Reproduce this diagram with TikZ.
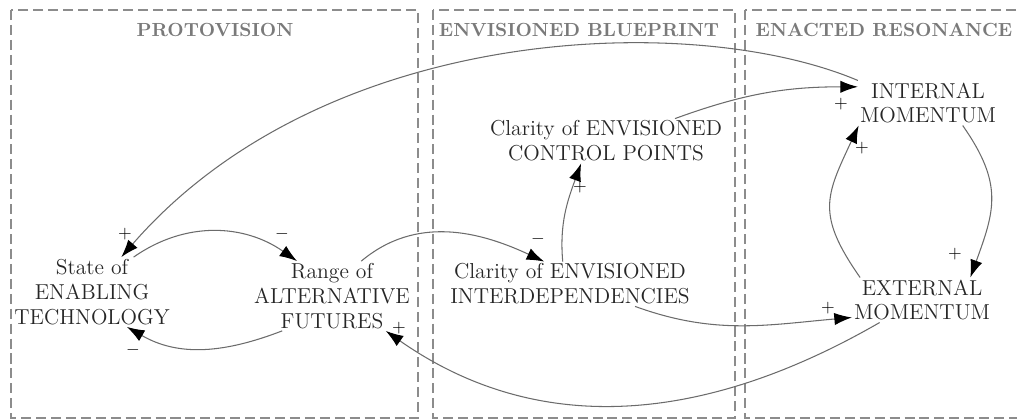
\documentclass[tikz,border=0pt]{standalone}
\usetikzlibrary{arrows.meta,positioning}
\newcommand{\pxunit}{0.02cm}
\colorlet{framegray}{black!45}
\colorlet{titlegray}{black!52}
\colorlet{linkgray}{black!58}
\tikzset{
    boxsty/.style={draw=framegray, line width=1.1pt, dash pattern=on 5.7pt off 2.8pt},
    titlesty/.style={text=titlegray, font=\bfseries\fontsize{10.8}{13}\selectfont, inner sep=0pt},
    varsty/.style={align=center, inner sep=1pt, text=black!85, font=\fontsize{12.3}{14.2}\selectfont},
    linksty/.style={draw=linkgray, line width=0.6pt, ->},
    signsty/.style={font=\normalsize, inner sep=0pt},
}

\begin{document}
\begin{tikzpicture}[x=\pxunit, y=-\pxunit, >={Latex[length=10pt,width=7pt,black]}]
\useasboundingbox (0,0) rectangle (1017,419);

% the three phases
\draw[boxsty] (11,10) rectangle (418,418);
\draw[boxsty] (433,10) rectangle (735,418);
\draw[boxsty] (745,10) rectangle (1040,418);
\node[titlesty] (ttlproto) at (215,30) {PROTOVISION};
\node[titlesty] (ttlblue) at (579,30) {ENVISIONED BLUEPRINT};
\node[titlesty] (ttlenact) at (884,30) {ENACTED RESONANCE};

% variables
\node[varsty] (tech) at (92,292) {State of\\ENABLING\\TECHNOLOGY};
\node[varsty] (range) at (332,296) {Range of\\ALTERNATIVE\\FUTURES};
\node[varsty] (ctrl) at (606,141) {Clarity of ENVISIONED\\CONTROL POINTS};
\node[varsty] (inter) at (570,284) {Clarity of ENVISIONED\\INTERDEPENDENCIES};
\node[varsty] (intm) at (928,103) {INTERNAL\\MOMENTUM};
\node[varsty] (extm) at (922,300) {EXTERNAL\\MOMENTUM};

% causal links
\draw[linksty] (intm.north west) to[out=157,in=49,out looseness=0.6,in looseness=1.05] (tech.50);
\draw[linksty] (tech.40) to[out=35,in=145] (range.135);
\draw[linksty] (range.215) to[out=201,in=330] (tech.-45);
\draw[linksty] (range.50) to[out=40,in=155] (inter.139);
\draw[linksty] (inter.108) to[out=95,in=250] (ctrl.222);
\draw[linksty] (ctrl.18) to[out=20,in=180] (intm.167);
\draw[linksty] (intm.-33) to[out=-55,in=70,looseness=1.2] (extm.25);
\draw[linksty] (extm.160) to[out=125,in=245,looseness=1.3] (intm.198);
\draw[linksty] (inter.-19) to[out=-20,in=185] (extm.194);
\draw[linksty] (extm.208) to[out=210,in=325] (range.-33);

% polarities
\node[signsty] (sgntech) at (125,234) {$+$};
\node[signsty] (sgnrange) at (282,234) {$-$};
\node[signsty] (sgntechb) at (133,350) {$-$};
\node[signsty] (sgnrangeb) at (399,328) {$+$};
\node[signsty] (sgninter) at (538,239) {$-$};
\node[signsty] (sgnctrl) at (580,187) {$+$};
\node[signsty] (sgnintm) at (841,104) {$+$};
\node[signsty] (sgnintmb) at (862,148) {$+$};
\node[signsty] (sgnextm) at (955,254) {$+$};
\node[signsty] (sgnextmb) at (828,308) {$+$};
\end{tikzpicture}
\end{document}
